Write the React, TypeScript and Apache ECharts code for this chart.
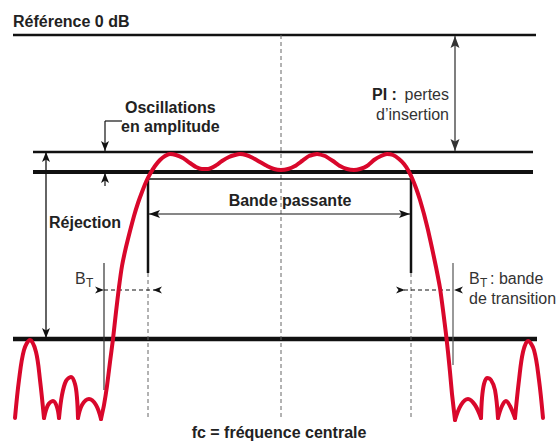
import React, { useEffect, useRef } from "react";
import * as echarts from "echarts";

const W = 559;
const H = 443;

// Levels (vertical axis grows downward = more attenuation)
const REF_LEVEL = 35;
const RIPPLE_TOP = 152;
const RIPPLE_BOTTOM = 172;
const REJECTION = 339;
const FLOOR = 420;
const BOX_TOP = 179;
const BOX_BOTTOM = 273;
const BT_LEVEL = 290;
const BP_ARROW_LEVEL = 214;

// Frequencies
const FC = 281;
const PASS_LO = 148;
const PASS_HI = 411;
const TRANS_LO = 104;
const TRANS_HI = 453;

// Filter response, split into lobes
const leftLobe1 = [[15, 418], [19, 380], [24, 350], [30, 340], [36, 352], [40, 380], [44, 418]];
const leftLobe2 = [[44, 418], [48, 405], [53, 401], [57, 407], [59, 418]];
const leftLobe3 = [[59, 418], [62, 395], [66, 381], [71, 377], [75, 384], [77, 398], [78, 418]];
const leftLobe4 = [[78, 418], [82, 405], [89, 399], [96, 405], [101, 419]];
const mainLobe = [
  [101, 419], [104, 405], [107, 386], [110, 362], [113, 339], [116, 312], [119, 287], [122, 266],
  [126, 247], [130, 231], [134, 216], [138, 203], [142, 192], [146, 182], [150, 174], [155, 166],
  [160, 160], [165, 156], [170, 154], [176, 155], [183, 158], [190, 163], [196, 167], [202, 169],
  [208, 169], [215, 166], [222, 161], [229, 157], [235, 155], [240, 154], [246, 155], [253, 158],
  [260, 162], [267, 166], [274, 169], [281, 170], [288, 169], [295, 166], [302, 161], [309, 156],
  [317, 154], [325, 156], [333, 161], [340, 166], [347, 169], [354, 170], [360, 169], [367, 166],
  [374, 160], [381, 156], [387, 154], [393, 155], [399, 159], [404, 164], [408, 170], [412, 178],
  [416, 188], [420, 200], [424, 214], [428, 230], [432, 248], [436, 267], [440, 288], [443, 310],
  [446, 334], [448, 352], [450, 372], [452, 394], [455, 420],
];
const rightLobe4 = [[455, 420], [461, 405], [468, 399], [475, 405], [481, 418]];
const rightLobe3 = [[481, 418], [482, 398], [484, 384], [487, 378], [491, 380], [495, 390], [498, 418]];
const rightLobe2 = [[498, 418], [502, 406], [506, 401], [510, 406], [515, 418]];
const rightLobe1 = [[515, 418], [519, 380], [523, 352], [528, 341], [534, 350], [539, 380], [543, 418]];

const RED = "#d9072b";
const BLACK = "#111111";
const GRAY = "#666666";
const TEXT = "#222222";
const FONT = "'Liberation Sans', Arial, Helvetica, sans-serif";

function seg(data: number[][], color: string, width: number, type: any = "solid", z = 2) {
  return {
    type: "line",
    data,
    symbol: "none",
    silent: true,
    z,
    lineStyle: { color, width, type, cap: "butt" },
  };
}

function curve(data: number[][], smooth = 0.35) {
  return {
    type: "line",
    data,
    symbol: "none",
    silent: true,
    smooth,
    z: 10,
    lineStyle: { color: RED, width: 4, cap: "round", join: "round" },
  };
}

export default function App() {
  const ref = useRef<HTMLDivElement>(null);
  useEffect(() => {
    document.body.style.margin = "0";
    const chart = echarts.init(ref.current!, null, { renderer: "svg" });
    const dash = [4, 3];
    chart.setOption({
      animation: false,
      grid: { left: 0, right: 0, top: 0, bottom: 0, containLabel: false },
      xAxis: { type: "value", min: 0, max: W, show: false },
      yAxis: { type: "value", min: 0, max: H, inverse: true, show: false },
      series: [
        seg([[13, REF_LEVEL], [536, REF_LEVEL]], BLACK, 2.5),
        seg([[33, RIPPLE_TOP], [533, RIPPLE_TOP]], BLACK, 2.5),
        seg([[33, RIPPLE_BOTTOM], [533, RIPPLE_BOTTOM]], BLACK, 4),
        seg([[13, REJECTION], [537, REJECTION]], BLACK, 4.5),
        seg([[FC, REF_LEVEL], [FC, FLOOR]], GRAY, 1, dash),
        seg([[PASS_LO, BOX_TOP], [PASS_HI, BOX_TOP]], BLACK, 1.5),
        seg([[PASS_LO, BOX_TOP], [PASS_LO, BOX_BOTTOM]], BLACK, 2.5),
        seg([[PASS_HI, BOX_TOP], [PASS_HI, BOX_BOTTOM]], BLACK, 2.5),
        seg([[PASS_LO, BOX_BOTTOM], [PASS_LO, FLOOR]], GRAY, 1, dash),
        seg([[PASS_HI, BOX_BOTTOM], [PASS_HI, FLOOR]], GRAY, 1, dash),
        seg([[TRANS_LO, 263], [TRANS_LO, 390]], "#333", 1.2),
        seg([[TRANS_HI, 263], [TRANS_HI, 365]], "#555", 1.2),
        seg([[TRANS_LO, BT_LEVEL], [155, BT_LEVEL]], BLACK, 1, [4, 3]),
        seg([[404, BT_LEVEL], [TRANS_HI, BT_LEVEL]], BLACK, 1, [4, 3]),
        seg([[PASS_LO + 1, BP_ARROW_LEVEL], [PASS_HI - 1, BP_ARROW_LEVEL]], BLACK, 1.2),
        seg([[46, RIPPLE_TOP], [46, REJECTION]], BLACK, 1.3),
        seg([[105, 121], [105, RIPPLE_TOP]], BLACK, 1.2),
        seg([[105, 121], [122, 121]], BLACK, 1.2),
        seg([[105, RIPPLE_BOTTOM], [105, 186]], BLACK, 1.2),
        seg([[455, REF_LEVEL + 1], [455, RIPPLE_TOP - 1]], "#555", 1.5),
        curve(leftLobe1),
        curve(leftLobe2),
        curve(leftLobe3),
        curve(leftLobe4),
        curve(mainLobe, 0.15),
        curve(rightLobe4),
        curve(rightLobe3),
        curve(rightLobe2),
        curve(rightLobe1),
      ],
    });

    const px = (x: number, y: number) => chart.convertToPixel({ gridIndex: 0 }, [x, y]) as number[];
    const head = (x: number, y: number, dx: number, dy: number, color: string, L = 10, w = 4, n = 2.5) => {
      const [tx, ty] = px(x, y);
      const bx = tx - dx * L;
      const by = ty - dy * L;
      const pxp = -dy;
      const pyp = dx;
      return {
        type: "polygon",
        silent: true,
        z: 20,
        shape: {
          points: [
            [tx, ty],
            [bx + pxp * w, by + pyp * w],
            [tx - dx * (L - n), ty - dy * (L - n)],
            [bx - pxp * w, by - pyp * w],
          ],
        },
        style: { fill: color },
      };
    };
    const txt = (x: number, y: number, text: string, opts: any = {}) => {
      const [tx, ty] = px(x, y);
      return {
        type: "text",
        silent: true,
        z: 30,
        x: tx,
        y: ty - 5.5,
        style: {
          text,
          font: `${opts.bold ? "bold " : ""}${opts.size || 16}px ${FONT}`,
          fill: opts.color || TEXT,
          align: opts.align || "left",
          verticalAlign: "middle",
        },
      };
    };

    chart.setOption({
      graphic: [
        head(46, RIPPLE_TOP, 0, -1, BLACK),
        head(46, REJECTION - 1, 0, 1, BLACK),
        head(105, RIPPLE_TOP - 1, 0, 1, BLACK),
        head(105, RIPPLE_BOTTOM + 1, 0, -1, BLACK),
        head(PASS_LO + 1, BP_ARROW_LEVEL, -1, 0, BLACK, 11, 4),
        head(PASS_HI - 1, BP_ARROW_LEVEL, 1, 0, BLACK, 11, 4),
        head(455, REF_LEVEL + 1, 0, -1, "#333", 12, 4.5),
        head(455, RIPPLE_TOP - 1, 0, 1, "#333", 12, 4.5),
        head(TRANS_LO, BT_LEVEL, 1, 0, BLACK, 9, 3.5),
        head(153, BT_LEVEL, -1, 0, BLACK, 9, 3.5),
        head(405, BT_LEVEL, 1, 0, BLACK, 9, 3.5),
        head(TRANS_HI + 1, BT_LEVEL, -1, 0, BLACK, 9, 3.5),
        txt(13, 27, "Référence 0 dB", { bold: true }),
        txt(125, 113, "Oscillations", { bold: true }),
        txt(121, 132, "en amplitude", { bold: true }),
        txt(49, 228, "Réjection", { bold: true }),
        txt(290, 206, "Bande passante", { bold: true, align: "center" }),
        txt(372, 100, "PI :", { bold: true, color: TEXT }),
        txt(449, 100, "pertes", { align: "right", color: "#333" }),
        txt(449, 120, "d\u2019insertion", { align: "right", color: "#333" }),
        txt(75, 284, "B", { color: "#333" }),
        txt(86, 288, "T", { color: "#333", size: 12 }),
        txt(469, 284, "B", { color: "#333" }),
        txt(480, 288, "T", { color: "#333", size: 12 }),
        txt(490, 284, ": bande", { color: "#333" }),
        txt(469, 304, "de transition", { color: "#333" }),
        txt(279, 438, "fc = fréquence centrale", { bold: true, align: "center" }),
      ],
    });
    return () => chart.dispose();
  }, []);
  return <div ref={ref} style={{ width: W, height: H }} />;
}
